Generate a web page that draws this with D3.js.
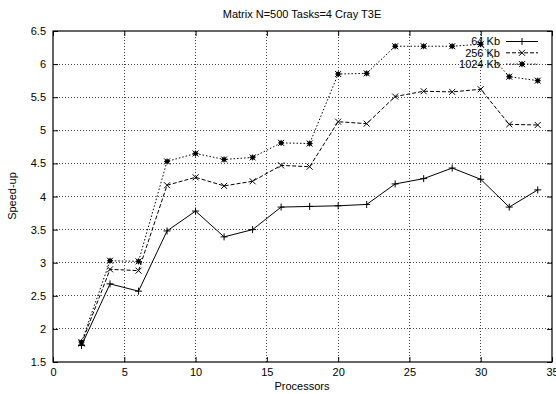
<!DOCTYPE html>
<html>
<head>
<meta charset="utf-8">
<script src="https://cdn.jsdelivr.net/npm/d3@7"></script>
<style>
  html, body { margin: 0; padding: 0; background: #fff; }
  svg { display: block; font-family: "Liberation Sans", Arial, Helvetica, sans-serif; }
</style>
</head>
<body>
<svg id="chart" width="556" height="394"></svg>
<script>
// Processor counts on the x axis
const processors = [2, 4, 6, 8, 10, 12, 14, 16, 18, 20, 22, 24, 26, 28, 30, 32, 34];

// Measured speed-up for each block size
const speedup64 = [1.75, 2.68, 2.57, 3.48, 3.78, 3.39, 3.50, 3.84, 3.85, 3.86, 3.88, 4.19, 4.27, 4.43, 4.26, 3.84, 4.10];
const speedup256 = [1.78, 2.90, 2.88, 4.17, 4.29, 4.16, 4.23, 4.47, 4.45, 5.13, 5.10, 5.51, 5.59, 5.58, 5.62, 5.09, 5.08];
const speedup1024 = [1.80, 3.03, 3.02, 4.53, 4.65, 4.56, 4.59, 4.81, 4.80, 5.85, 5.86, 6.27, 6.27, 6.27, 6.30, 5.81, 5.75];

const seriesNames = ["64 Kb", "256 Kb", "1024 Kb"];

const xTicks = [0, 5, 10, 15, 20, 25, 30, 35];
const yTicks = [1.5, 2, 2.5, 3, 3.5, 4, 4.5, 5, 5.5, 6, 6.5];

const titleText = "Matrix N=500 Tasks=4 Cray T3E";
const xLabel = "Processors";
const yLabel = "Speed-up";

const svg = d3.select("#chart");
const plot = { left: 53, right: 552, top: 31, bottom: 362 };

const x = d3.scaleLinear().domain([0, 35]).range([plot.left, plot.right]);
const y = d3.scaleLinear().domain([1.5, 6.5]).range([plot.bottom, plot.top]);

// Dotted grid
const grid = svg.append("g").attr("stroke", "#444").attr("stroke-width", 1)
  .attr("stroke-dasharray", "1,2").attr("shape-rendering", "crispEdges");
xTicks.slice(1, -1).forEach(t => {
  grid.append("line").attr("x1", x(t)).attr("x2", x(t)).attr("y1", plot.top).attr("y2", plot.bottom);
});
yTicks.slice(1, -1).forEach(t => {
  grid.append("line").attr("x1", plot.left).attr("x2", plot.right).attr("y1", y(t)).attr("y2", y(t));
});

// Axes with inward ticks, mirrored on top and right
const tickLen = 5;
const axBottom = svg.append("g").attr("transform", `translate(0,${plot.bottom})`)
  .call(d3.axisBottom(x).tickValues(xTicks).tickSizeInner(-tickLen).tickSizeOuter(0).tickPadding(6).tickFormat(d3.format("d")));
const axTop = svg.append("g").attr("transform", `translate(0,${plot.top})`)
  .call(d3.axisTop(x).tickValues(xTicks).tickSizeInner(-tickLen).tickSizeOuter(0).tickFormat(""));
const axLeft = svg.append("g").attr("transform", `translate(${plot.left},0)`)
  .call(d3.axisLeft(y).tickValues(yTicks).tickSizeInner(-tickLen).tickSizeOuter(0).tickPadding(7).tickFormat(d => d3.format("")(d)));
const axRight = svg.append("g").attr("transform", `translate(${plot.right},0)`)
  .call(d3.axisRight(y).tickValues(yTicks).tickSizeInner(-tickLen).tickSizeOuter(0).tickFormat(""));

[axBottom, axTop, axLeft, axRight].forEach(a => {
  a.select(".domain").remove();
  a.selectAll("line").attr("stroke", "#000");
  a.selectAll("text").attr("font-size", 11).attr("fill", "#000")
    .attr("font-family", "'Liberation Sans', Arial, sans-serif");
});

// Frame
svg.append("rect")
  .attr("x", plot.left).attr("y", plot.top)
  .attr("width", plot.right - plot.left).attr("height", plot.bottom - plot.top)
  .attr("fill", "none").attr("stroke", "#000").attr("stroke-width", 1.2);

// Titles
svg.append("text").attr("x", 302).attr("y", 18).attr("text-anchor", "middle")
  .attr("font-size", 11).text(titleText);
svg.append("text").attr("x", 302).attr("y", 390).attr("text-anchor", "middle")
  .attr("font-size", 11).text(xLabel);
svg.append("text").attr("transform", "translate(16,196) rotate(-90)")
  .attr("text-anchor", "middle").attr("font-size", 11).text(yLabel);

// Point markers
function plus(g, cx, cy, s) {
  g.append("path").attr("d", `M${cx - s},${cy}H${cx + s}M${cx},${cy - s}V${cy + s}`)
    .attr("stroke", "#000").attr("stroke-width", 1).attr("fill", "none");
}
function cross(g, cx, cy, s) {
  g.append("path").attr("d", `M${cx - s},${cy - s}L${cx + s},${cy + s}M${cx - s},${cy + s}L${cx + s},${cy - s}`)
    .attr("stroke", "#000").attr("stroke-width", 1).attr("fill", "none");
}
function star(g, cx, cy, s) {
  g.append("rect").attr("x", cx - 2).attr("y", cy - 2).attr("width", 4).attr("height", 4).attr("fill", "#111");
  plus(g, cx, cy, s);
  cross(g, cx, cy, s);
}

const series = [
  { name: seriesNames[0], values: speedup64, dash: null, marker: plus, size: 3.5 },
  { name: seriesNames[1], values: speedup256, dash: "4,2", marker: cross, size: 3 },
  { name: seriesNames[2], values: speedup1024, dash: "1.5,2", marker: star, size: 3 }
];

const line = d3.line().x(d => x(d[0])).y(d => y(d[1]));

series.forEach(s => {
  const pts = processors.map((p, i) => [p, s.values[i]]);
  const g = svg.append("g");
  g.append("path").attr("d", line(pts)).attr("fill", "none")
    .attr("stroke", "#000").attr("stroke-width", 1)
    .attr("stroke-dasharray", s.dash);
  pts.forEach(p => s.marker(g, x(p[0]), y(p[1]), s.size));
});

// Key
const key = svg.append("g");
series.forEach((s, i) => {
  const ky = 41.5 + i * 11.3;
  key.append("text").attr("x", 500).attr("y", ky).attr("dy", "0.35em")
    .attr("text-anchor", "end").attr("font-size", 11).text(s.name);
  key.append("line").attr("x1", 506).attr("x2", 538).attr("y1", ky).attr("y2", ky)
    .attr("stroke", "#000").attr("stroke-width", 1).attr("stroke-dasharray", s.dash);
  s.marker(key, 522, ky, s.size);
});
</script>
</body>
</html>
